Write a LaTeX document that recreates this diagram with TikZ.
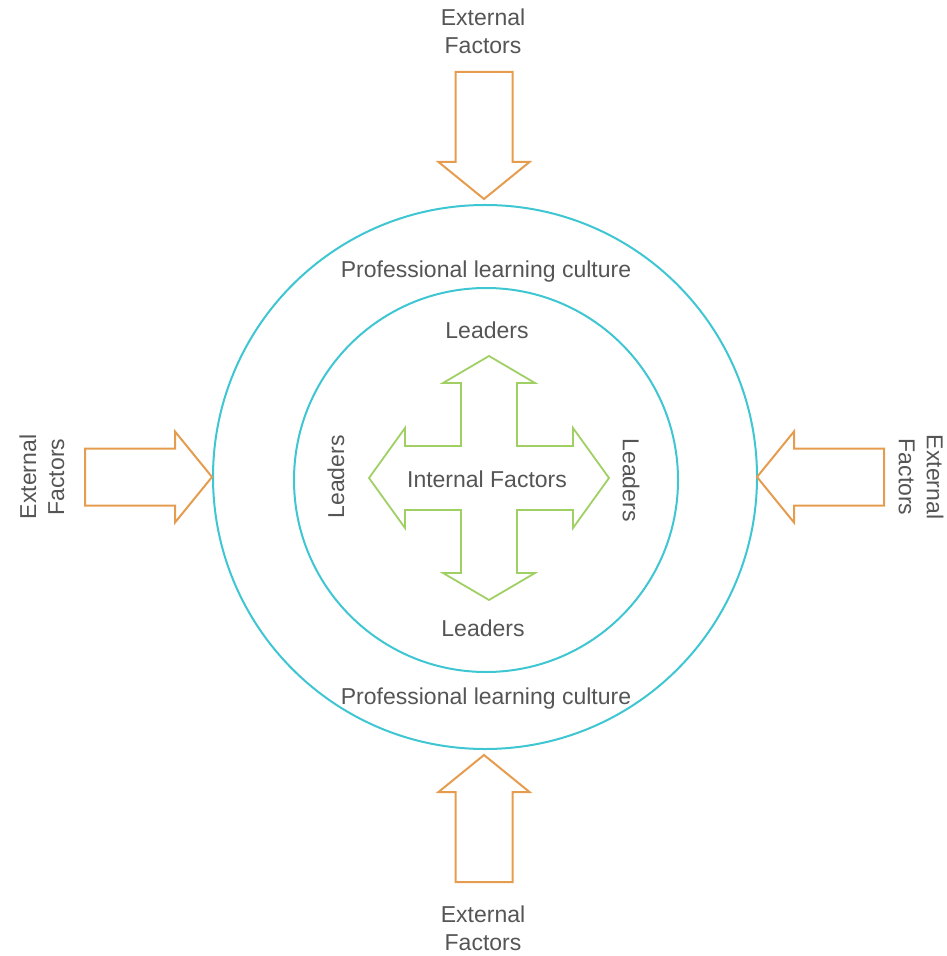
\documentclass[tikz,border=0pt]{standalone}
\usepackage{fontspec}
\setmainfont{Liberation Sans}
\usepackage{xcolor}
\usepackage{tikz}
\usetikzlibrary{positioning}

\definecolor{ringcyan}{RGB}{62,198,210}
\definecolor{extorange}{RGB}{230,156,78}
\definecolor{intgreen}{RGB}{160,208,100}
\definecolor{txtgray}{RGB}{85,85,85}

\begin{document}
\begin{tikzpicture}[
  x=0.5pt, y=-0.5pt,
  ring/.style={draw=ringcyan, line width=1pt, circle, inner sep=0pt},
  lbl/.style={text=txtgray, align=center, inner sep=1pt, font=\fontsize{11.5}{14}\selectfont},
  extarrow/.pic={\draw[draw=extorange, line width=1pt, line join=miter]
    (-127,-28.5) -- (-37,-28.5) -- (-37,-45.5) -- (0,0) -- (-37,45.5) -- (-37,28.5) -- (-127,28.5) -- cycle;}
]
\useasboundingbox (0,0) rectangle (946,956);

\node[ring, minimum size=272pt] (outer) at (485,477) {};
\node[ring, minimum size=192pt] (inner) at (486,480) {};

\pic[rotate=-90] at (484,199) {extarrow};
\pic[rotate=90] at (484,755) {extarrow};
\pic at (212,477) {extarrow};
\pic[rotate=180] at (757,477) {extarrow};

\begin{scope}[shift={(489,478)}]
\draw[draw=intgreen, line width=0.9pt, line join=miter]
  (0,-122) -- (46,-95) -- (28,-95) -- (28,-32) -- (84,-32) -- (84,-50) -- (120,0)
  -- (84,50) -- (84,32) -- (28,32) -- (28,95) -- (46,95) -- (0,122)
  -- (-46,95) -- (-28,95) -- (-28,32) -- (-84,32) -- (-84,50) -- (-120,0)
  -- (-84,-50) -- (-84,-32) -- (-28,-32) -- (-28,-95) -- (-46,-95) -- cycle;
\end{scope}

\node[lbl] (extN) at (483,31) {External\\Factors};
\node[lbl] (extS) at (483,928) {External\\Factors};
\node[lbl, rotate=90] (extW) at (42,477) {External\\Factors};
\node[lbl, rotate=-90] (extE) at (921,477) {External\\Factors};

\node[lbl] (cultN) at (486,272) {Professional learning culture};
\node[lbl] (cultS) at (486,699) {Professional learning culture};

\node[lbl] (leadN) at (487,330) {Leaders};
\node[lbl] (leadS) at (483,628) {Leaders};
\node[lbl, rotate=90] (leadW) at (336,477) {Leaders};
\node[lbl, rotate=-90] (leadE) at (631,480) {Leaders};

\node[lbl] (internal) at (487,479) {Internal Factors};
\end{tikzpicture}
\end{document}
